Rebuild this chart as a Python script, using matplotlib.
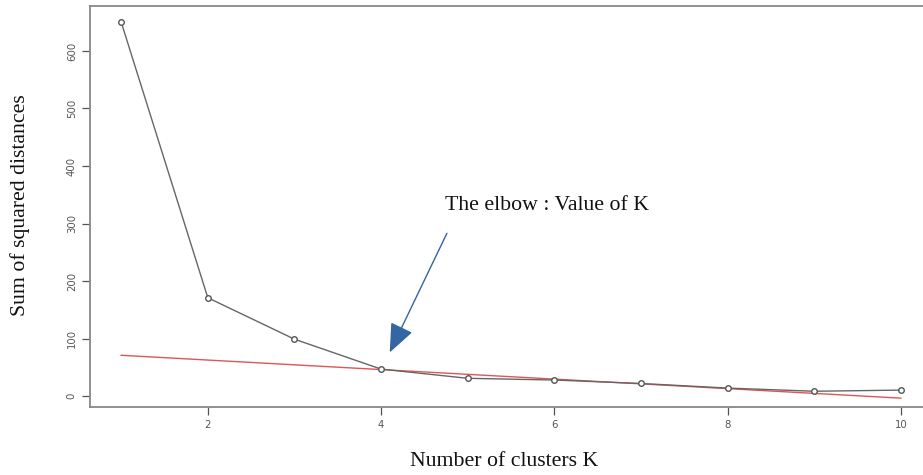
import matplotlib.pyplot as plt

k_values = [1, 2, 3, 4, 5, 6, 7, 8, 9, 10]
ssd = [650, 171, 99, 47, 31, 28, 22, 14, 8.5, 10.5]

# red reference line through the elbow
ref_k = [1, 10]
ref_ssd = [71, -3.5]

x_ticks = [2, 4, 6, 8, 10]
y_ticks = [0, 100, 200, 300, 400, 500, 600]

fig = plt.figure(figsize=(9.23, 4.75), dpi=100)
ax = fig.add_axes([90 / 923, 1 - 406.5 / 475, 842 / 923, 400.5 / 475])

ax.plot(k_values, ssd, color='#666666', lw=1.0, marker='o', ms=4,
        mfc='white', mec='#555555', mew=1.0, zorder=3)
ax.plot(ref_k, ref_ssd, color='#e05555', lw=1.0, zorder=2)

ax.set_xlim(0.64, 10.36)
ax.set_ylim(-18, 678)
ax.set_xticks(x_ticks)
ax.set_yticks(y_ticks)
ax.tick_params(axis='both', colors='#555555', labelsize=7.3, length=6,
               width=0.9, direction='out')
for lab in ax.get_yticklabels():
    lab.set_rotation(90)
    lab.set_va('center')
for s in ax.spines.values():
    s.set_color('#888888')
    s.set_linewidth(1.3)

fig.text(504 / 923, 1 - 461 / 475, 'Number of clusters K', ha='center',
         va='center', family='Liberation Serif', fontsize=15.7, color='#111111')
fig.text(20 / 923, 1 - 205 / 475, 'Sum of squared distances', ha='center',
         va='center', rotation=90, family='Liberation Serif', fontsize=15.7,
         color='#111111')

ax.annotate('', xy=(4.10, 76), xytext=(4.76, 283),
            arrowprops=dict(arrowstyle='-|>,head_length=1.8,head_width=0.75',
                            color='#3465a4', lw=1.0, shrinkA=0, shrinkB=0))
ax.text(5.92, 331, 'The elbow : Value of K', ha='center', va='center',
        family='Liberation Serif', fontsize=15.7, color='#111111')

plt.savefig('out.png', dpi=100)
